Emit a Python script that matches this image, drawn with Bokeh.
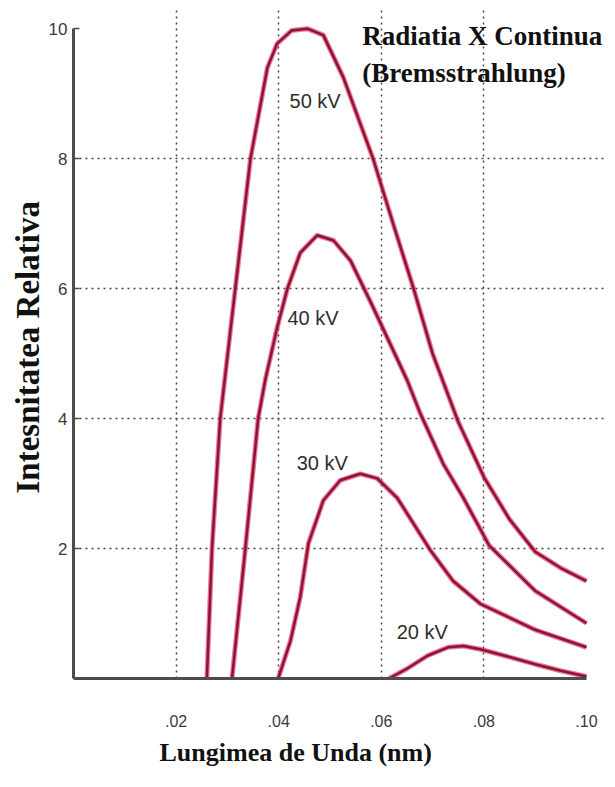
import math
from bokeh.plotting import figure
from bokeh.models import Range1d, FixedTicker, Label, CustomJSTickFormatter, Title
from bokeh.embed import file_html
from bokeh.resources import INLINE

# ---- data (wavelength in nm, relative intensity) ----
x_50kv = [0.0260, 0.0270, 0.0286, 0.0311, 0.0345, 0.0378, 0.0397, 0.0425, 0.0456,
          0.0487, 0.0526, 0.0584, 0.0625, 0.0663, 0.0700, 0.0750, 0.0800, 0.0850, 0.0900,
          0.0950, 0.1000]
y_50kv = [0.0, 2.0, 4.0, 5.7, 8.0, 9.4, 9.77, 9.97, 10.0,
          9.9, 9.25, 8.0, 6.95, 6.0, 5.0, 3.95, 3.1, 2.45, 1.95,
          1.7, 1.5]

x_40kv = [0.0309, 0.0335, 0.0360, 0.0374, 0.0397, 0.0417, 0.0442, 0.0475, 0.0507, 0.0540,
          0.0580, 0.0651, 0.0676, 0.0721, 0.0760, 0.0810, 0.0900, 0.1000]
y_40kv = [0.0, 2.0, 4.0, 4.6, 5.4, 6.0, 6.55, 6.82, 6.74, 6.43,
          5.78, 4.58, 4.08, 3.3, 2.78, 2.05, 1.35, 0.85]

x_30kv = [0.0399, 0.0423, 0.0442, 0.0458, 0.0487, 0.0520, 0.0559, 0.0592, 0.0631, 0.0696,
          0.0740, 0.0793, 0.0900, 0.1000]
y_30kv = [0.0, 0.58, 1.25, 2.08, 2.74, 3.05, 3.15, 3.08, 2.78, 1.97,
          1.5, 1.15, 0.75, 0.48]

x_20kv = [0.0615, 0.0650, 0.0690, 0.0730, 0.0760, 0.0793, 0.0850, 0.0900, 0.0950, 0.1000]
y_20kv = [0.0, 0.15, 0.35, 0.48, 0.50, 0.45, 0.33, 0.22, 0.12, 0.03]

curve_names = ["50 kV", "40 kV", "30 kV", "20 kV"]
label_x = [0.0471, 0.0467, 0.0485, 0.0680]
label_y = [8.89, 5.54, 3.31, 0.72]

x_ticks = [0.02, 0.04, 0.06, 0.08, 0.10]
y_ticks = [2, 4, 6, 8, 10]

title_lines = ["Radiatia X Continua", "(Bremsstrahlung)"]
x_title = "Lungimea de Unda (nm)"
y_title = "Intesnitatea Relativa"

# ---- figure ----
p = figure(width=607, height=779, output_backend="svg", toolbar_location=None,
           x_range=Range1d(0, 0.1041), y_range=Range1d(0, 10.31),
           min_border_left=73, min_border_right=0, min_border_top=8, min_border_bottom=101)
p.outline_line_color = None
p.background_fill_color = "white"
p.border_fill_color = "white"

axis_col = "#4d4d4d"
for ax in (p.xaxis[0], p.yaxis[0]):
    ax.axis_line_color = axis_col
    ax.axis_line_width = 3
    ax.minor_tick_line_color = None
    ax.major_label_text_font = "Liberation Sans"
    ax.major_label_text_color = "#3a3a3a"

p.xaxis.bounds = (0, 0.1)
p.xaxis.ticker = FixedTicker(ticks=x_ticks)
p.xaxis.formatter = CustomJSTickFormatter(code="return tick.toFixed(2).replace(/^0/, '');")
p.xaxis.major_tick_line_color = None
p.xaxis.major_label_standoff = 30
p.xaxis.major_label_text_font_size = "16px"

p.yaxis.bounds = (0, 10)
p.yaxis.ticker = FixedTicker(ticks=y_ticks)
p.yaxis.major_tick_in = 6
p.yaxis.major_tick_out = 0
p.yaxis.major_tick_line_color = axis_col
p.yaxis.major_tick_line_width = 1.5
p.yaxis.major_label_standoff = 6
p.yaxis.major_label_text_font_size = "17px"

p.xgrid.ticker = FixedTicker(ticks=[t for t in x_ticks if t < 0.099])
p.ygrid.ticker = FixedTicker(ticks=[t for t in y_ticks if t < 9.9])
for g in (p.xgrid[0], p.ygrid[0]):
    g.grid_line_color = "#444444"
    g.grid_line_dash = "2 4"
    g.grid_line_width = 1.5

# ---- curves ----
for xs, ys in [(x_50kv, y_50kv), (x_40kv, y_40kv), (x_30kv, y_30kv), (x_20kv, y_20kv)]:
    p.line(xs, ys, line_color="#e0466e", line_width=5, line_alpha=0.7, line_join="round")
    p.line(xs, ys, line_color="#8e1234", line_width=2.5, line_join="round")

for name, lx, ly in zip(curve_names, label_x, label_y):
    p.add_layout(Label(x=lx, y=ly, text=name, text_font="Liberation Sans",
                       text_font_size="20px", text_color="#2e2e2e",
                       text_align="center", text_baseline="middle"))

# ---- titles ----
p.add_layout(Label(x=0.0563, y=9.89, text=title_lines[0], text_font="Liberation Serif",
                   text_font_style="bold", text_font_size="27px", text_color="#111111",
                   text_align="left", text_baseline="alphabetic"))
p.add_layout(Label(x=0.0563, y=9.31, text=title_lines[1], text_font="Liberation Serif",
                   text_font_style="bold", text_font_size="27px", text_color="#111111",
                   text_align="left", text_baseline="alphabetic"))

p.add_layout(Title(text=x_title, align="left", offset=86, standoff=12,
                   text_font="Liberation Serif", text_font_style="bold",
                   text_font_size="26px", text_color="#111111"), "below")
p.add_layout(Title(text=y_title, align="left", offset=185, standoff=0,
                   text_font="Liberation Serif", text_font_style="bold",
                   text_font_size="33px", text_color="#111111"), "left")

open("out.html", "w").write(file_html(p, INLINE))
